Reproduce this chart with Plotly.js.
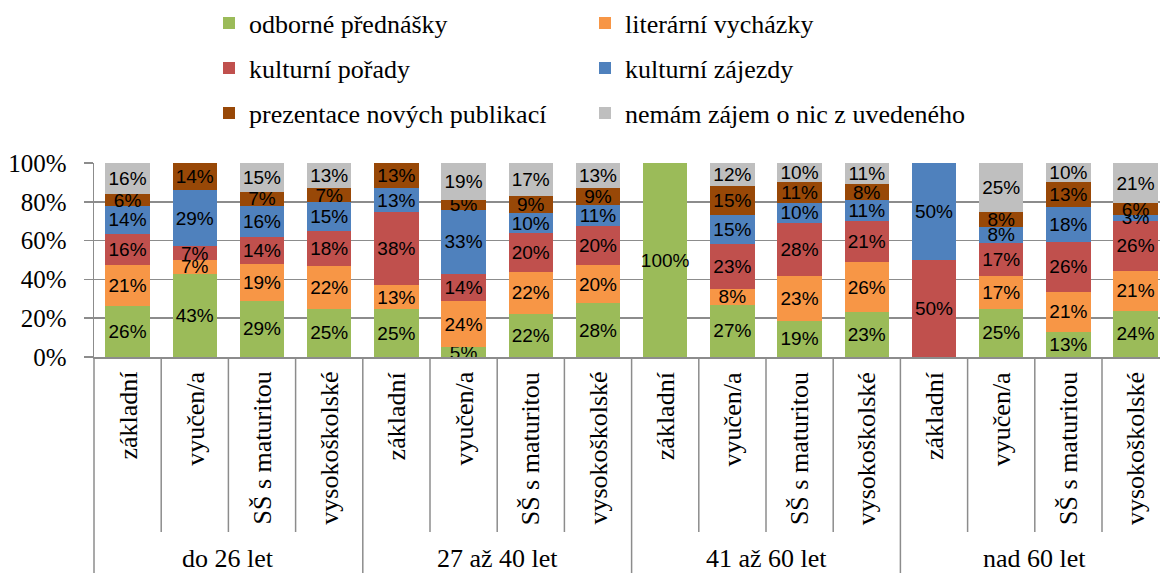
<!DOCTYPE html>
<html>
<head>
<meta charset="utf-8">
<script src="https://cdn.plot.ly/plotly-3.0.1.min.js"></script>
<style>html,body{margin:0;padding:0;background:#fff;}#chart{width:1160px;height:573px;}</style>
</head>
<body>
<div id="chart"></div>
<script>
const groups = ["do 26 let", "27 až 40 let", "41 až 60 let", "nad 60 let"];
const subLabels = ["základní", "vyučen/a", "SŠ s maturitou", "vysokoškolské"];

const seriesNames = ["odborné přednášky", "literární vycházky", "kulturní pořady", "kulturní zájezdy", "prezentace nových publikací", "nemám zájem o nic z uvedeného"];
const colors = ["#9BBB59", "#F79646", "#C0504D", "#4F81BD", "#984807", "#BFBFBF"];

const odborne     = [26, 43, 29, 25, 25,  5, 22, 28, 100, 27, 19, 23,  0, 25, 13, 24];
const literarni   = [21,  7, 19, 22, 13, 24, 22, 20,   0,  8, 23, 26,  0, 17, 21, 21];
const kulturniPor = [16,  7, 14, 18, 38, 14, 20, 20,   0, 23, 28, 21, 50, 17, 26, 26];
const kulturniZaj = [14, 29, 16, 15, 13, 33, 10, 11,   0, 15, 10, 11, 50,  8, 18,  3];
const prezentace  = [ 6, 14,  7,  7, 13,  5,  9,  9,   0, 15, 11,  8,  0,  8, 13,  6];
const nemam       = [16,  0, 15, 13,  0, 19, 17, 13,   0, 12, 10, 11,  0, 25, 10, 21];

const yTicks = [0, 20, 40, 60, 80, 100];

const series = [odborne, literarni, kulturniPor, kulturniZaj, prezentace, nemam];
const nCat = groups.length * subLabels.length;
const xs = Array.from({length: nCat}, (_, i) => i);
const legendIds = ["legend", "legend2", "legend3", "legend4", "legend5", "legend6"];

const SERIF = "Liberation Serif";
const SANS = "Liberation Sans";

const traces = series.map((vals, k) => ({
  type: "bar",
  name: seriesNames[k],
  x: xs,
  y: vals,
  text: vals.map(v => v > 0 ? v + "%" : ""),
  textposition: "inside",
  insidetextanchor: "middle",
  textangle: 0,
  constraintext: "none",
  textfont: {family: SANS, size: 19, color: "#000"},
  marker: {color: colors[k], line: {width: 0}},
  legend: legendIds[k],
  hoverinfo: "name+y"
}));

const plotL = 94, plotR = 1160, catW = 67.2;
const xEnd = -0.5 + (plotR - plotL) / catW;
const plotH = 194, plotT = 163;
const px2py = p => -p / plotH; // pixels below the x axis -> paper y

const shapes = [];
shapes.push({type: "line", xref: "paper", yref: "paper", x0: 0, x1: 0, y0: 0, y1: px2py(216), line: {color: "#8c8c8c", width: 1.5}});
for (let i = 1; i < nCat; i++) {
  const isGroup = i % subLabels.length === 0;
  shapes.push({type: "line", xref: "x", yref: "paper", x0: i - 0.5, x1: i - 0.5, y0: 0,
    y1: isGroup ? px2py(216) : px2py(175), line: {color: "#8c8c8c", width: 1.5}});
}

const annotations = [];
for (let i = 0; i < nCat; i++) {
  annotations.push({xref: "x", yref: "paper", x: i, y: px2py(13), text: subLabels[i % subLabels.length],
    showarrow: false, textangle: -90, xanchor: "center", yanchor: "top",
    font: {family: SERIF, size: 26, color: "#000"}});
}
groups.forEach((g, gi) => {
  annotations.push({xref: "x", yref: "paper", x: gi * subLabels.length + (subLabels.length - 1) / 2, y: px2py(201),
    text: g, showarrow: false, xanchor: "center", yanchor: "middle",
    font: {family: SERIF, size: 26, color: "#000"}});
});

// legend grid: 2 columns x 3 rows
const legColPx = [209, 585];
const legRowPx = [23, 68, 113];
const legFont = {family: SERIF, size: 26, color: "#000"};
const layout = {
  width: 1160, height: 573,
  margin: {l: plotL, r: 0, t: plotT, b: 216, autoexpand: false},
  paper_bgcolor: "#fff", plot_bgcolor: "#fff",
  barmode: "stack", barnorm: "percent", bargap: 0.34,
  showlegend: true,
  uniformtext: {mode: "show", minsize: 19},
  xaxis: {range: [-0.5, xEnd], showticklabels: false, ticks: "", showgrid: false, zeroline: false,
    showline: true, linecolor: "#8c8c8c", linewidth: 1.5, fixedrange: true},
  yaxis: {range: [0, 100], tickmode: "array", tickvals: yTicks, ticktext: yTicks.map(v => v + "%"), showgrid: true,
    gridcolor: "#8c8c8c", gridwidth: 1.5, showline: true, linecolor: "#8c8c8c", linewidth: 1.5,
    ticks: "outside", ticklen: 9, tickcolor: "#8c8c8c", tickwidth: 1.5, zeroline: false,
    ticklabelstandoff: 12,
    tickfont: {family: SERIF, size: 25, color: "#000"}, fixedrange: true},
  shapes: shapes,
  annotations: annotations
};
legendIds.forEach((id, k) => {
  const col = k % 2, row = Math.floor(k / 2);
  layout[id] = {orientation: "h", xanchor: "left", yanchor: "middle",
    x: (legColPx[col] - plotL) / (plotR - plotL),
    y: 1 + (plotT - legRowPx[row]) / plotH,
    font: legFont, bgcolor: "rgba(0,0,0,0)", itemclick: false};
});

Plotly.newPlot("chart", traces, layout, {displayModeBar: false, staticPlot: true});
</script>
</body>
</html>
